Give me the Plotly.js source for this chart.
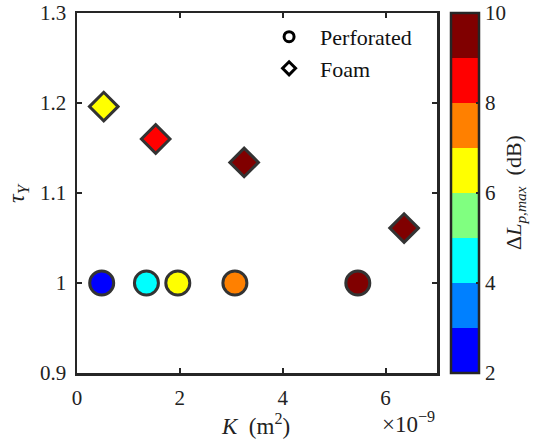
<!DOCTYPE html>
<html>
<head>
<meta charset="utf-8">
<script src="https://cdn.plot.ly/plotly-3.0.1.min.js"></script>
<style>body{margin:0;padding:0;background:#fff}#chart{width:535px;height:446px}</style>
</head>
<body>
<div id="chart"></div>
<script>
// Data
const perfK = [0.48e-9, 1.35e-9, 1.96e-9, 3.07e-9, 5.46e-9];
const perfTau = [1, 1, 1, 1, 1];
const perfDL = [2.5, 4.5, 6.5, 7.5, 9.5];

const foamK = [0.52e-9, 1.53e-9, 3.25e-9, 6.36e-9];
const foamTau = [1.196, 1.16, 1.134, 1.061];
const foamDL = [6.5, 8.5, 9.5, 9.5];

const xTickVals = [0, 2e-9, 4e-9, 6e-9];
const xTickText = ["0", "2", "4", "6"];
const yTickVals = [0.9, 1, 1.1, 1.2, 1.3];
const yTickText = ["0.9", "1", "1.1", "1.2", "1.3"];
const cbTickVals = [2, 4, 6, 8, 10];

const binColors = ["#0000ff", "#0080ff", "#00ffff", "#80ff80", "#ffff00", "#ff8000", "#ff0000", "#800000"];
const colorscale = [];
binColors.forEach((c, i) => {
  colorscale.push([i / binColors.length, c]);
  colorscale.push([(i + 1) / binColors.length, c]);
});

const serif = "'Liberation Serif', 'Times New Roman', 'DejaVu Serif', serif";
const axisCol = "#262626";
const edge = "#333333";

const traces = [
  {
    x: perfK, y: perfTau, type: "scatter", mode: "markers", showlegend: false,
    marker: {
      symbol: "circle", size: 24, color: perfDL, colorscale: colorscale, cmin: 2, cmax: 10,
      line: {color: edge, width: 3},
      showscale: true,
      colorbar: {
        x: 1.0389, xanchor: "left", xref: "paper", y: 0.5, yanchor: "middle",
        len: 1, lenmode: "fraction", thickness: 28, thicknessmode: "pixels",
        outlinewidth: 2.5, outlinecolor: axisCol,
        tickvals: cbTickVals, ticks: "inside", ticklen: 4, tickwidth: 2, tickcolor: axisCol,
        tickfont: {family: serif, size: 21, color: "#222"}, ticklabelstandoff: 4,
        xpad: 0, ypad: 0, borderwidth: 0
      }
    }
  },
  {
    x: foamK, y: foamTau, type: "scatter", mode: "markers", showlegend: false,
    marker: {
      symbol: "diamond", size: 22, color: foamDL, colorscale: colorscale, cmin: 2, cmax: 10,
      line: {color: edge, width: 3}, showscale: false
    }
  },
  {
    x: [null], y: [null], type: "scatter", mode: "markers", name: "Perforated",
    marker: {symbol: "circle", size: 10, color: "rgba(0,0,0,0)", line: {color: "#000", width: 3}}
  },
  {
    x: [null], y: [null], type: "scatter", mode: "markers", name: "Foam",
    marker: {symbol: "diamond", size: 10, color: "rgba(0,0,0,0)", line: {color: "#000", width: 3}}
  }
];

const layout = {
  width: 535, height: 446,
  margin: {l: 77, r: 98, t: 13, b: 73, pad: 0},
  paper_bgcolor: "#fff", plot_bgcolor: "#fff",
  font: {family: serif, size: 21, color: "#222"},
  showlegend: true,
  legend: {
    x: 0.503, xanchor: "left", y: 0.992, yanchor: "top",
    bgcolor: "rgba(0,0,0,0)", borderwidth: 0,
    itemwidth: 52, font: {family: serif, size: 22, color: "#111"}
  },
  xaxis: {
    range: [0, 7e-9], tickvals: xTickVals, ticktext: xTickText,
    showline: true, mirror: "ticks", linecolor: axisCol, linewidth: 2.5,
    ticks: "inside", ticklen: 5, tickwidth: 2, tickcolor: axisCol,
    showgrid: false, zeroline: false, ticklabelstandoff: 4,
    tickfont: {family: serif, size: 21, color: "#222"}
  },
  yaxis: {
    range: [0.9, 1.3], tickvals: yTickVals, ticktext: yTickText,
    showline: true, mirror: "ticks", linecolor: axisCol, linewidth: 2.5,
    ticks: "inside", ticklen: 5, tickwidth: 2, tickcolor: axisCol,
    showgrid: false, zeroline: false, ticklabelstandoff: 4,
    tickfont: {family: serif, size: 21, color: "#222"}
  },
  annotations: [
    {
      text: "<i>K</i>  (m<sup>2</sup>)", xref: "paper", yref: "paper",
      x: 0.495, y: -0.142, xanchor: "center", yanchor: "middle", showarrow: false,
      font: {family: serif, size: 23, color: "#222"}
    },
    {
      text: "×10<sup>−9</sup>", xref: "paper", yref: "paper",
      x: 1.0, y: -0.138, xanchor: "right", yanchor: "middle", showarrow: false,
      font: {family: serif, size: 23, color: "#222"}
    },
    {
      text: "<i>τ<sub>Y</sub></i>", xref: "paper", yref: "paper",
      x: -0.164, y: 0.5, xanchor: "center", yanchor: "middle", showarrow: false,
      textangle: -90, font: {family: serif, size: 24, color: "#222"}
    },
    {
      text: "Δ<i>L</i><sub><i>p,max</i></sub>  (dB)", xref: "paper", yref: "paper",
      x: 1.2167, y: 0.5, xanchor: "center", yanchor: "middle", showarrow: false,
      textangle: -90, font: {family: serif, size: 22, color: "#222"}
    }
  ]
};

Plotly.newPlot("chart", traces, layout, {displayModeBar: false, staticPlot: true});
</script>
</body>
</html>
